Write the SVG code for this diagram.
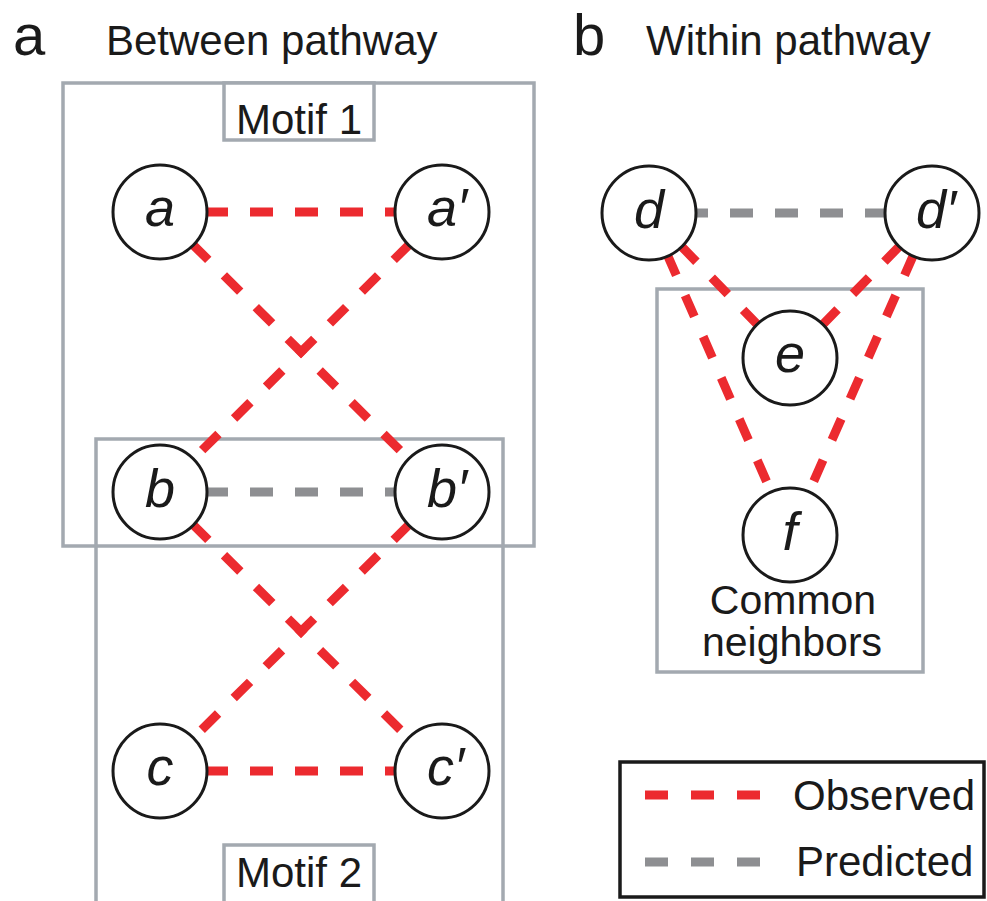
<svg xmlns="http://www.w3.org/2000/svg" width="987" height="901" viewBox="0 0 987 901">
<style>
.box{fill:none;stroke:#A3A9B0;stroke-width:3.5}
.lbox{fill:#fff;stroke:#A3A9B0;stroke-width:3.5}
.obs{stroke:#EC2A2F;stroke-width:9;stroke-dasharray:23 22;fill:none}
.pred{stroke:#8E8F92;stroke-width:9;stroke-dasharray:23 22;fill:none}
.node circle{fill:#fff;stroke:#1a1a1a;stroke-width:3}
.nl{font-family:"Liberation Sans",Arial,sans-serif;font-style:italic;font-size:54px;fill:#1a1a1a}
.t{font-family:"Liberation Sans",Arial,sans-serif;font-size:42px;fill:#1a1a1a}
.p{font-family:"Liberation Sans",Arial,sans-serif;font-size:58px;fill:#1a1a1a}
</style>
<rect width="987" height="901" fill="#fff"/>
<g id="headers">
<text class="p" x="13" y="55">a</text>
<text class="t" x="106" y="55">Between pathway</text>
<text class="p" x="573" y="55">b</text>
<text class="t" x="646" y="55">Within pathway</text>
</g>
<g id="motif1-box">
<rect class="box" x="63" y="83" width="471" height="463"/>
</g>
<g id="motif2-box">
<rect class="box" x="96" y="439" width="407" height="470"/>
</g>
<g id="common-box">
<rect class="box" x="657" y="289" width="266" height="383"/>
</g>
<g id="connectors">
<line class="obs" x1="160" y1="212" x2="442" y2="212"/>
<line class="obs" x1="160" y1="212" x2="442" y2="492"/>
<line class="obs" x1="442" y1="212" x2="160" y2="492"/>
<line class="pred" x1="160" y1="492" x2="442" y2="492"/>
<line class="obs" x1="160" y1="492" x2="442" y2="771"/>
<line class="obs" x1="442" y1="492" x2="160" y2="771"/>
<line class="obs" x1="160" y1="771" x2="442" y2="771"/>
<line class="pred" x1="649" y1="213" x2="932" y2="213" stroke-dashoffset="9"/>
<line class="obs" x1="649" y1="213" x2="790" y2="358"/>
<line class="obs" x1="932" y1="213" x2="790" y2="358"/>
<line class="obs" x1="649" y1="213" x2="790" y2="535"/>
<line class="obs" x1="932" y1="213" x2="790" y2="535"/>
</g>
<g id="motif1-label">
<rect class="lbox" x="224" y="83" width="150" height="57"/>
<text class="t" x="299" y="134" text-anchor="middle">Motif 1</text>
</g>
<g id="motif2-label">
<rect class="lbox" x="224" y="845" width="150" height="64"/>
<text class="t" x="299" y="887" text-anchor="middle">Motif 2</text>
</g>
<g id="node-a" class="node"><circle cx="160" cy="212" r="47"/><text class="nl" x="160" y="226" text-anchor="middle">a</text></g>
<g id="node-a-prime" class="node"><circle cx="442" cy="212" r="47"/><text class="nl" x="427" y="226">a′</text></g>
<g id="node-b" class="node"><circle cx="160" cy="492" r="47"/><text class="nl" x="160" y="507" text-anchor="middle">b</text></g>
<g id="node-b-prime" class="node"><circle cx="442" cy="492" r="47"/><text class="nl" x="427" y="507">b′</text></g>
<g id="node-c" class="node"><circle cx="160" cy="771" r="47"/><text class="nl" x="160" y="785" text-anchor="middle">c</text></g>
<g id="node-c-prime" class="node"><circle cx="442" cy="771" r="47"/><text class="nl" x="427" y="785">c′</text></g>
<g id="node-d" class="node"><circle cx="649" cy="213" r="47"/><text class="nl" x="649" y="228" text-anchor="middle">d</text></g>
<g id="node-d-prime" class="node"><circle cx="932" cy="213" r="47"/><text class="nl" x="916" y="228">d′</text></g>
<g id="node-e" class="node"><circle cx="790" cy="358" r="47"/><text class="nl" x="790" y="372" text-anchor="middle">e</text></g>
<g id="node-f" class="node"><circle cx="790" cy="535" r="47"/><text class="nl" x="790" y="550" text-anchor="middle">f</text></g>
<g id="common-label">
<text class="t" x="793" y="614" text-anchor="middle" style="font-size:41px">Common</text>
<text class="t" x="792" y="656" text-anchor="middle" style="font-size:41px">neighbors</text>
</g>
<g id="legend">
<rect x="620" y="762" width="364" height="135" fill="#fff" stroke="#1a1a1a" stroke-width="3.5"/>
<line x1="645" y1="795" x2="760" y2="795" stroke="#EC2A2F" stroke-width="9" stroke-dasharray="23 23"/>
<line x1="645" y1="862" x2="760" y2="862" stroke="#8E8F92" stroke-width="9" stroke-dasharray="23 23"/>
<text class="t" x="793" y="810">Observed</text>
<text class="t" x="796" y="876">Predicted</text>
</g>
</svg>
